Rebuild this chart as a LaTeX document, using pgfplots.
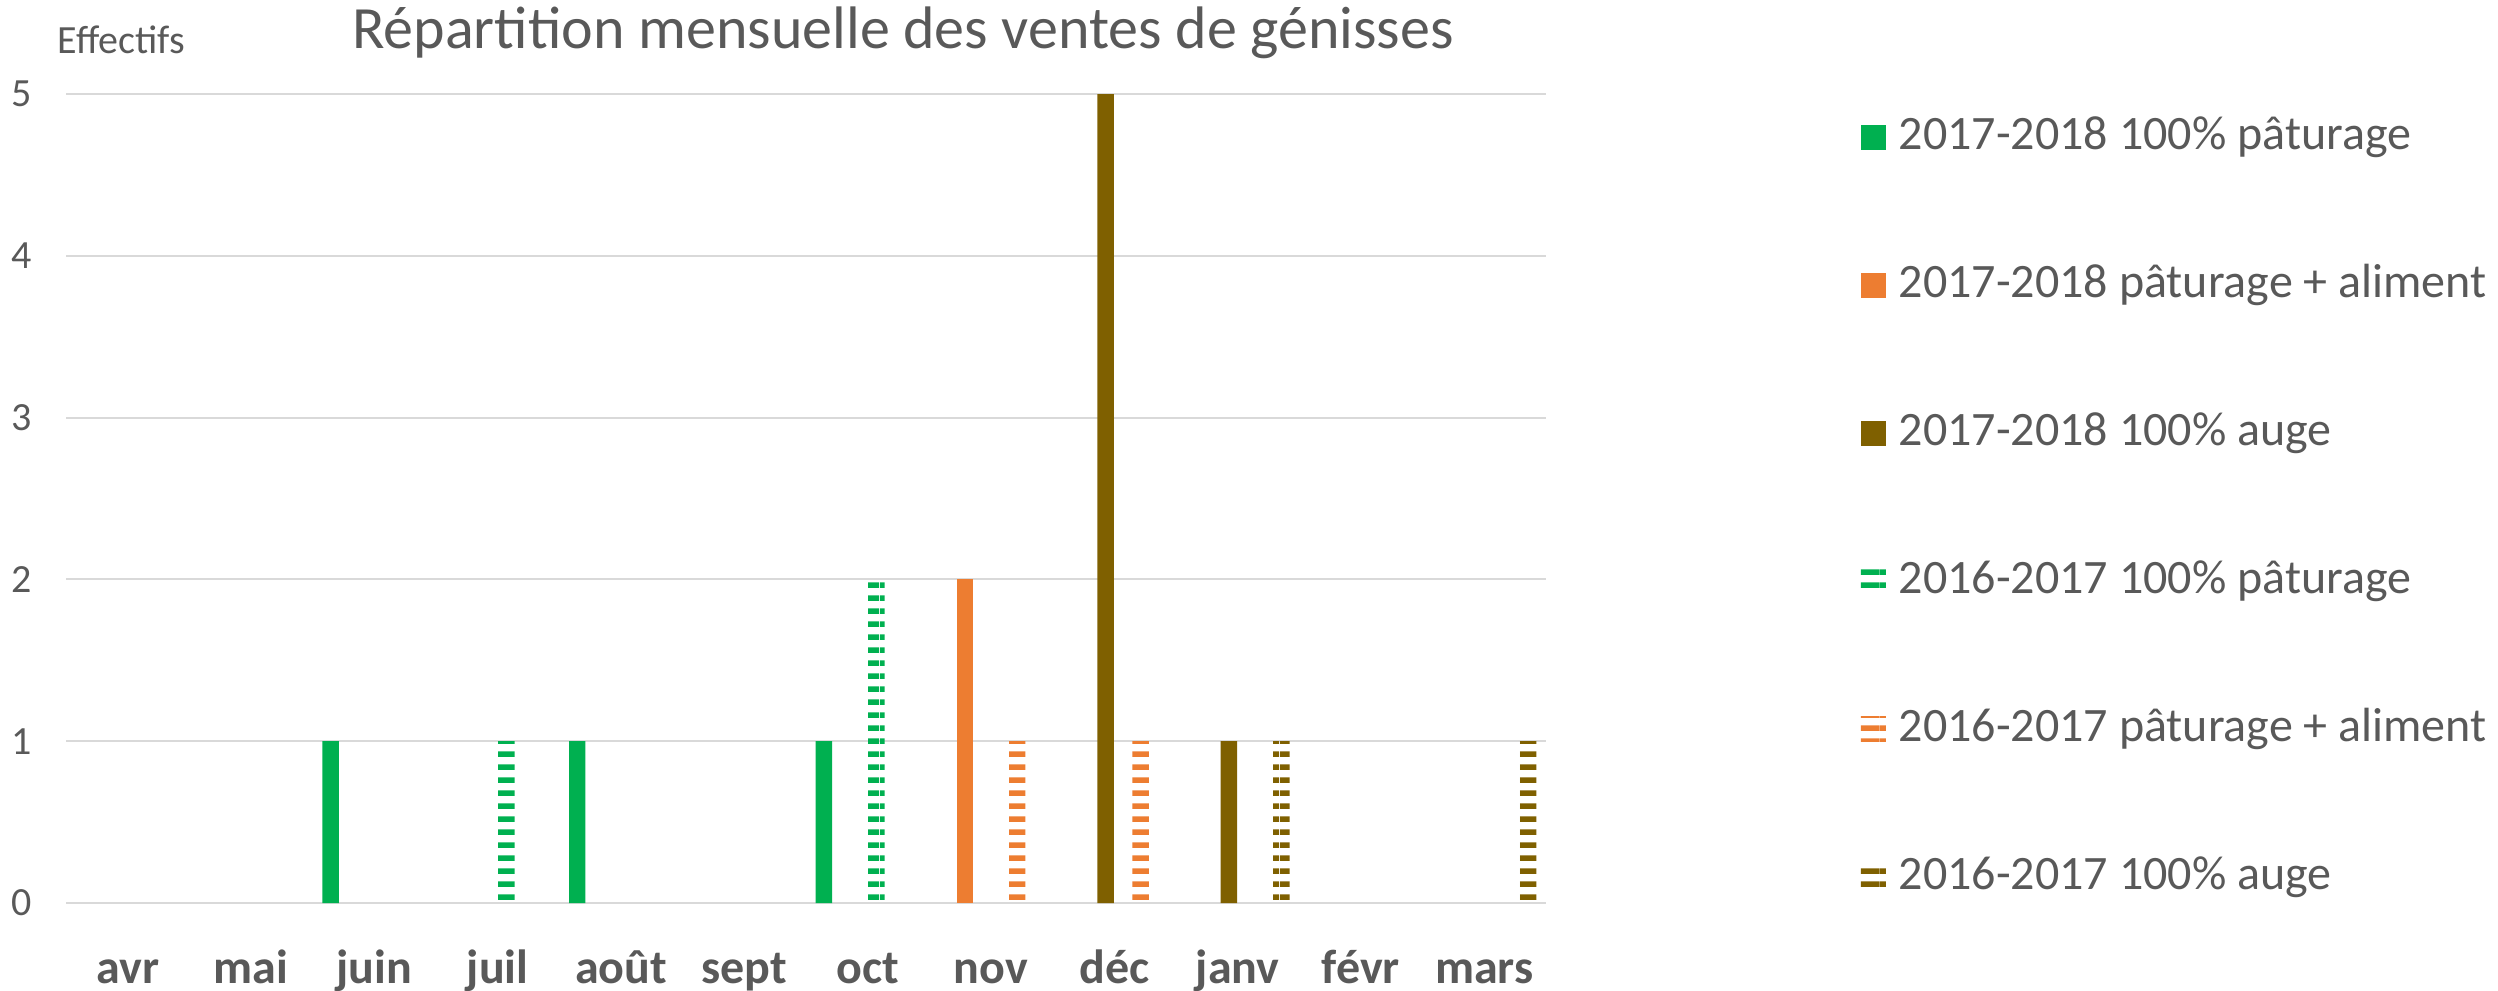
\documentclass[border=0pt]{standalone}
\usepackage{pgfplots}
\pgfplotsset{compat=1.18}
\usepackage{fontspec}
\setmainfont{Carlito}
\usetikzlibrary{patterns}
\definecolor{cgreen}{HTML}{00B050}
\definecolor{corange}{HTML}{ED7D31}
\definecolor{cbrown}{HTML}{7F6000}
\definecolor{cgrid}{HTML}{D9D9D9}
\definecolor{ctext}{HTML}{595959}
\pgfdeclarepatternformonly{hdash}{\pgfqpoint{0pt}{0pt}}{\pgfqpoint{10pt}{3.25pt}}{\pgfqpoint{10pt}{3.25pt}}{%
  \pgfpathrectangle{\pgfqpoint{0pt}{0pt}}{\pgfqpoint{10pt}{1.5pt}}\pgfusepath{fill}}
\begin{document}
\begin{tikzpicture}
\useasboundingbox (0,0) rectangle (624.5pt,247.5pt);
\begin{axis}[
  at={(16.5pt,21.75pt)}, anchor=south west,
  scale only axis, width=370pt, height=202.25pt,
  xmin=-0.5, xmax=11.5, ymin=0, ymax=5,
  ybar=0.275pt, bar width=4.1pt,
  axis line style={draw=none}, tick style={draw=none},
  major tick length=0pt,
  ytick={0,1,2,3,4,5},
  xtick={0,...,11},
  xticklabels={avr,mai,juin,juil,août,sept,oct,nov,déc,janv,févr,mars},
  ymajorgrids, grid style={cgrid, line width=0.5pt},
  /pgf/number format/assume math mode=true,
  yticklabel style={anchor=east, inner sep=0pt, xshift=-8.25pt, font=\fontsize{10}{12}\selectfont, text=ctext},
  xticklabel style={anchor=base, inner sep=0pt, yshift=-20pt, font=\bfseries\fontsize{12}{14}\selectfont, text=ctext},
  legend image code/.code={\path[#1] (0pt,-3.125pt) rectangle (6.25pt,3.125pt);},
  legend cell align=left,
  legend style={at={(1.2122,0.975)}, anchor=north west, draw=none, fill=none,
    font=\fontsize{12}{14}\selectfont, text=ctext,
    nodes={inner sep=0pt, text height=8.5pt, text depth=2.5pt},
    column sep=3.25pt, row sep=26pt, inner sep=0pt},
]
\addplot[fill=cgreen, draw=none] coordinates {(2,1) (4,1) (6,1)};
\addplot[fill=corange, draw=none] coordinates {(7,2)};
\addplot[fill=cbrown, draw=none] coordinates {(8,5) (9,1)};
\addplot[pattern=hdash, pattern color=cgreen, draw=none] coordinates {(3,1) (6,2)};
\addplot[pattern=hdash, pattern color=corange, draw=none] coordinates {(7,1) (8,1)};
\addplot[pattern=hdash, pattern color=cbrown, draw=none] coordinates {(9,1) (11,1)};
\legend{2017-2018 100\% pâturage, 2017-2018 pâturage + aliment, 2017-2018 100\% auge, 2016-2017 100\% pâturage, 2016-2017 pâturage + aliment, 2016-2017 100\% auge}
\end{axis}
\node[font=\fontsize{15}{18}\selectfont, text=ctext, anchor=base] at (225.75pt,235.5pt) {Répartition mensuelle des ventes de génisses};
\node[font=\fontsize{10}{12}\selectfont, text=ctext, anchor=base west, inner sep=0pt] at (14.25pt,234.25pt) {Effectifs};
\end{tikzpicture}
\end{document}
